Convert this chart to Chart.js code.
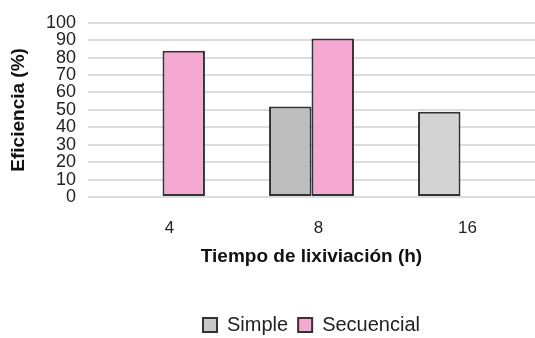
<!DOCTYPE html>
<html>
<head>
<meta charset="utf-8">
<script src="https://cdn.jsdelivr.net/npm/chart.js@4"></script>
<style>
  html, body { margin: 0; padding: 0; background: #fff; }
  #wrap { width: 535px; height: 338px; }
</style>
</head>
<body>
<div id="wrap"><canvas id="chart"></canvas></div>
<script>
// Data
const categories = ['4', '8', '16'];
const simpleValues = [null, 52, 49];
const secuencialValues = [84, 91, null];
const yTicks = [0, 10, 20, 30, 40, 50, 60, 70, 80, 90, 100];

const FONT = "'Liberation Sans', Arial, sans-serif";
const PLOT_BOTTOM = 197;
const LEGEND_TOP = 305;

// move legend: centred under the plot area, item row lower down
const legendPlace = {
    id: 'legendPlace',
    afterLayout(chart) {
        const lg = chart.legend;
        const area = chart.chartArea;
        const shift = (area.left + area.right) / 2 - (lg.left + lg.right) / 2;
        lg.left += shift;
        lg.right += shift;
        const h = lg.bottom - lg.top;
        lg.top = LEGEND_TOP;
        lg.bottom = LEGEND_TOP + h;
    }
};

const ctx = document.getElementById('chart');
new Chart(ctx, {
    type: 'bar',
    data: {
        labels: categories,
        datasets: [{
            label: 'Simple',
            data: simpleValues,
            backgroundColor: ['#c8c8c8', '#bdbdbd', '#d3d3d3'],
            borderColor: '#333333',
            borderWidth: 2,
            borderSkipped: false
        }, {
            label: 'Secuencial',
            data: secuencialValues,
            backgroundColor: '#f4a8d2',
            borderColor: '#333333',
            borderWidth: 2,
            borderSkipped: false
        }]
    },
    options: {
        responsive: true,
        maintainAspectRatio: false,
        animation: false,
        layout: { padding: { top: 8, right: 0, left: 4, bottom: 0 } },
        datasets: {
            bar: { categoryPercentage: 0.57, barPercentage: 1.0 }
        },
        scales: {
            x: {
                grid: { display: false },
                border: { display: false },
                afterFit(axis) {
                    const lg = axis.chart.legend;
                    const lgH = lg ? lg.height : 0;
                    axis.height = axis.chart.height - lgH - PLOT_BOTTOM;
                    axis.options.title.padding.bottom = axis.height - (257 - PLOT_BOTTOM) - 11;
                },
                ticks: {
                    color: '#222',
                    font: { family: FONT, size: 17 },
                    padding: 13,
                    labelOffset: 7
                },
                title: {
                    display: true,
                    text: 'Tiempo de lixiviación (h)',
                    color: '#111',
                    font: { family: FONT, size: 19, weight: 'bold' },
                    padding: { top: 0, bottom: 30 }
                }
            },
            y: {
                min: 0,
                max: 100,
                afterBuildTicks(axis) {
                    axis.ticks = yTicks.map(v => ({ value: v }));
                },
                afterFit(axis) {
                    axis.width = 84;
                },
                grid: { color: '#dcdcdc', lineWidth: 2, drawTicks: false },
                border: { display: false },
                ticks: {
                    color: '#222',
                    autoSkip: false,
                    font: { family: FONT, size: 18 },
                    padding: 12
                },
                title: {
                    display: true,
                    text: 'Eficiencia (%)',
                    color: '#111',
                    font: { family: FONT, size: 19, weight: 'bold' },
                    padding: { top: 3, bottom: 2 }
                }
            }
        },
        plugins: {
            legend: {
                position: 'bottom',
                labels: {
                    color: '#222',
                    font: { family: FONT, size: 20 },
                    boxWidth: 14,
                    boxHeight: 14,
                    padding: 10,
                    useBorderRadius: false
                }
            },
            tooltip: { enabled: false }
        }
    },
    plugins: [legendPlace]
});
</script>
</body>
</html>
